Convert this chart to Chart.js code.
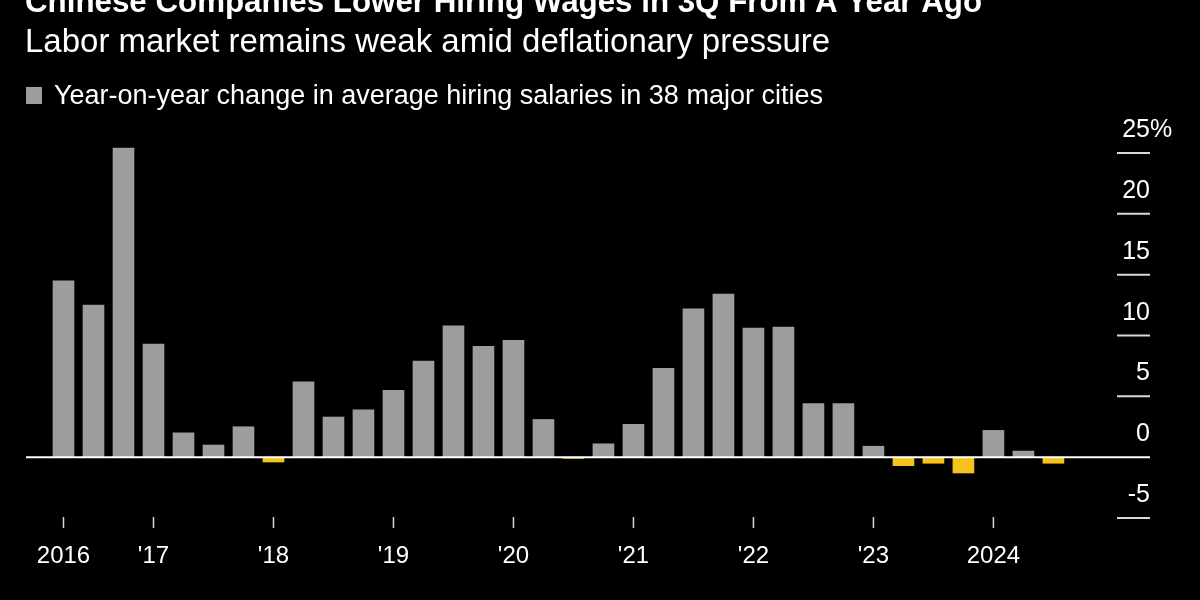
<!DOCTYPE html>
<html>
<head>
<meta charset="utf-8">
<script src="https://cdn.jsdelivr.net/npm/chart.js@4"></script>
<style>
  html, body { margin: 0; padding: 0; background: #000; }
  #wrap { position: relative; width: 1200px; height: 600px; }
</style>
</head>
<body>
<div id="wrap"><canvas id="wageChart"></canvas></div>
<script>
// --- datos ---
const TITLE = 'Chinese Companies Lower Hiring Wages in 3Q From A Year Ago';
const SUBTITLE = 'Labor market remains weak amid deflationary pressure';
const LEGEND = 'Year-on-year change in average hiring salaries in 38 major cities';

const quarters = [
    '2016 Q2', '2016 Q3', '2016 Q4',
    '2017 Q1', '2017 Q2', '2017 Q3', '2017 Q4',
    '2018 Q1', '2018 Q2', '2018 Q3', '2018 Q4',
    '2019 Q1', '2019 Q2', '2019 Q3', '2019 Q4',
    '2020 Q1', '2020 Q2', '2020 Q3', '2020 Q4',
    '2021 Q1', '2021 Q2', '2021 Q3', '2021 Q4',
    '2022 Q1', '2022 Q2', '2022 Q3', '2022 Q4',
    '2023 Q1', '2023 Q2', '2023 Q3', '2023 Q4',
    '2024 Q1', '2024 Q2', '2024 Q3'
];
const wageChange = [
    14.5, 12.5, 25.4,
    9.3, 2.0, 1.0, 2.5,
    -0.4, 6.2, 3.3, 3.9,
    5.5, 7.9, 10.8, 9.1,
    9.6, 3.1, -0.1, 1.1,
    2.7, 7.3, 12.2, 13.4,
    10.6, 10.7, 4.4, 4.4,
    0.9, -0.7, -0.5, -1.3,
    2.2, 0.5, -0.5
];
const yearTickAt = ['2016 Q2', '2017 Q1', '2018 Q1', '2019 Q1', '2020 Q1', '2021 Q1', '2022 Q1', '2023 Q1', '2024 Q1'];
const yearTickLabels = ['2016', "'17", "'18", "'19", "'20", "'21", "'22", "'23", '2024'];
const yTicks = [-5, 0, 5, 10, 15, 20, 25];

// --- estilos ---
const FONT = '"Liberation Sans", Arial, Helvetica, sans-serif';
const GRAY = '#9d9d9d';
const YELLOW = '#f6c21c';

// --- plugin: textos, eje cero y marcas ---
const decor = {
    id: 'decor',
    beforeDraw(chart) {
        const ctx = chart.ctx;
        ctx.save();
        ctx.fillStyle = '#000';
        ctx.fillRect(0, 0, chart.width, chart.height);
        ctx.fillStyle = '#fff';
        ctx.textBaseline = 'alphabetic';
        ctx.font = `bold 31.3px ${FONT}`;
        ctx.fillText(TITLE, 25, 12);
        ctx.font = `33px ${FONT}`;
        ctx.fillText(SUBTITLE, 25, 52);
        ctx.fillStyle = GRAY;
        ctx.fillRect(26, 87, 16, 17);
        ctx.fillStyle = '#fff';
        ctx.font = `27px ${FONT}`;
        ctx.fillText(LEGEND, 54, 104);
        ctx.restore();
    },
    afterDatasetsDraw(chart) {
        const ctx = chart.ctx;
        const { x, y } = chart.scales;
        const area = chart.chartArea;
        ctx.save();

        // linea cero
        const y0 = y.getPixelForValue(0);
        ctx.strokeStyle = '#fff';
        ctx.lineWidth = 2;
        ctx.beginPath();
        ctx.moveTo(area.left, y0);
        ctx.lineTo(area.right, y0);
        ctx.stroke();

        // eje y derecho
        ctx.font = `25px ${FONT}`;
        ctx.textBaseline = 'alphabetic';
        yTicks.forEach(v => {
            const py = y.getPixelForValue(v);
            if (v !== 0) {
                ctx.strokeStyle = '#d8d8d8';
                ctx.lineWidth = 2;
                ctx.beginPath();
                ctx.moveTo(area.right - 33, py);
                ctx.lineTo(area.right, py);
                ctx.stroke();
            }
            ctx.fillStyle = '#fff';
            ctx.textAlign = 'right';
            ctx.fillText(String(v), area.right, py - 16);
            if (v === yTicks[yTicks.length - 1]) {
                ctx.textAlign = 'left';
                ctx.fillText('%', area.right, py - 16);
            }
        });

        // eje x: años
        ctx.font = `24px ${FONT}`;
        ctx.textAlign = 'center';
        yearTickAt.forEach((q, i) => {
            const px = x.getPixelForValue(quarters.indexOf(q));
            ctx.strokeStyle = '#d8d8d8';
            ctx.lineWidth = 1.5;
            ctx.beginPath();
            ctx.moveTo(px, area.bottom - 1);
            ctx.lineTo(px, area.bottom + 10);
            ctx.stroke();
            ctx.fillStyle = '#fff';
            ctx.fillText(yearTickLabels[i], px, area.bottom + 45);
        });
        ctx.restore();
    }
};

new Chart(document.getElementById('wageChart'), {
    type: 'bar',
    data: {
        datasets: [{
            label: LEGEND,
            data: wageChange.map((v, i) => ({ x: i, y: v })),
            backgroundColor: wageChange.map(v => v < 0 ? YELLOW : GRAY),
            barThickness: 21,
            clip: false
        }]
    },
    options: {
        responsive: true,
        maintainAspectRatio: false,
        animation: false,
        layout: { padding: { left: 26, right: 50, top: 153, bottom: 82 } },
        plugins: { legend: { display: false }, tooltip: { enabled: false } },
        scales: {
            x: { type: 'linear', min: -1.25, max: 36.22, offset: false, grid: { offset: false }, display: false },
            y: { min: -5, max: 25, display: false }
        }
    },
    plugins: [decor]
});
</script>
</body>
</html>
